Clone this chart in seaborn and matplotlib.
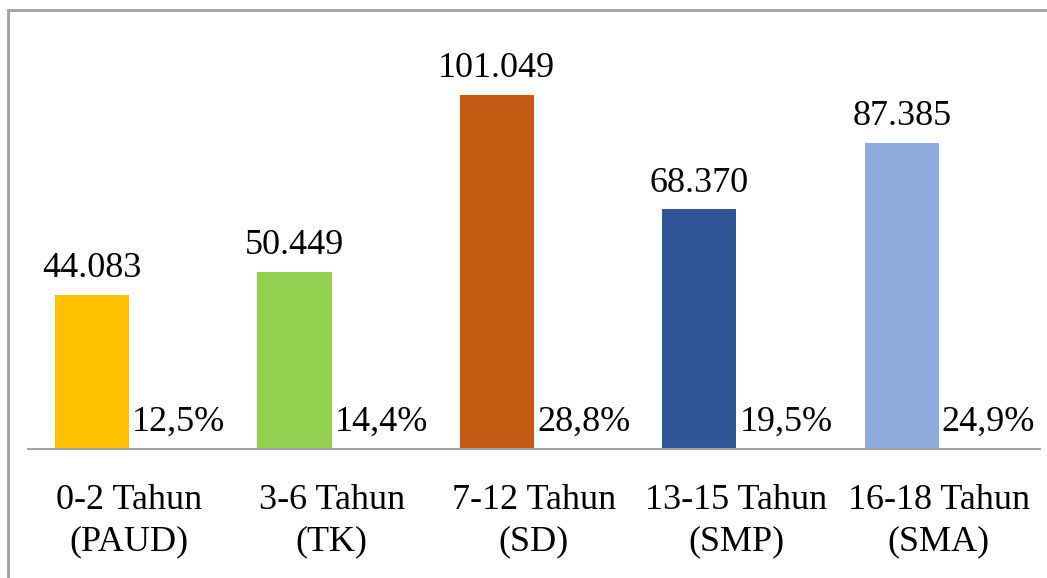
import matplotlib
matplotlib.use("Agg")
import matplotlib.pyplot as plt
from matplotlib.patches import Rectangle
import pandas as pd
import seaborn as sns

# Data
categories = ["0-2 Tahun\n(PAUD)", "3-6 Tahun\n(TK)", "7-12 Tahun\n(SD)",
              "13-15 Tahun\n(SMP)", "16-18 Tahun\n(SMA)"]
counts = [44083, 50449, 101049, 68370, 87385]
percents = [12.5, 14.4, 28.8, 19.5, 24.9]
bar_colors = ["#FFC000", "#92D050", "#C55A11", "#2F5597", "#8FAADC"]

df = pd.DataFrame({
    "kategori": categories * 2,
    "nilai": counts + percents,
    "seri": ["Jumlah"] * len(categories) + ["Persentase"] * len(categories),
})

sns.set_theme(style="white")
plt.rcParams["font.family"] = ["Liberation Serif", "DejaVu Serif"]

FS = 26
W, H = 1047, 578
fig = plt.figure(figsize=(W / 100, H / 100), dpi=100)
ax = fig.add_axes([28 / W, (H - 449) / H, 1012 / W, (449 - 25) / H])

sns.barplot(data=df, x="kategori", y="nilai", hue="seri", ax=ax,
            palette={"Jumlah": "#FFC000", "Persentase": "none"},
            width=0.733, dodge=True, legend=False, saturation=1)

count_bars = ax.containers[0]
pct_bars = ax.containers[1]
for patch, c in zip(count_bars, bar_colors):
    patch.set_facecolor(c)
    patch.set_edgecolor("none")
for patch in pct_bars:
    patch.set_alpha(0)

ax.bar_label(count_bars, labels=[f"{v:,}".replace(",", ".") for v in counts],
             padding=7, fontsize=FS, color="black")
pct_texts = ax.bar_label(pct_bars,
                         labels=[f"{p:.1f}%".replace(".", ",") for p in percents],
                         padding=7, fontsize=FS, color="black")
for t in pct_texts:
    t.xyann = (9, 7)

ax.set_ylim(0, 121000)
ax.set_xlim(-0.5, len(categories) - 0.5)
ax.set_xlabel("")
ax.set_ylabel("")
ax.set_yticks([])
ax.tick_params(axis="x", length=0, pad=25, labelsize=FS, labelcolor="black")
for lbl in ax.get_xticklabels():
    lbl.set_linespacing(1.35)
for side in ["top", "right", "left"]:
    ax.spines[side].set_visible(False)
ax.spines["bottom"].set_color("#A6A6A6")
ax.spines["bottom"].set_linewidth(1.5)

# Chart frame
fig.add_artist(Rectangle((8 / W, -0.05), 1.1, (H - 10) / H + 0.05,
                         transform=fig.transFigure, fill=False,
                         edgecolor="#A0A0A0", linewidth=2))

fig.savefig("out.png", dpi=100, facecolor="white")
